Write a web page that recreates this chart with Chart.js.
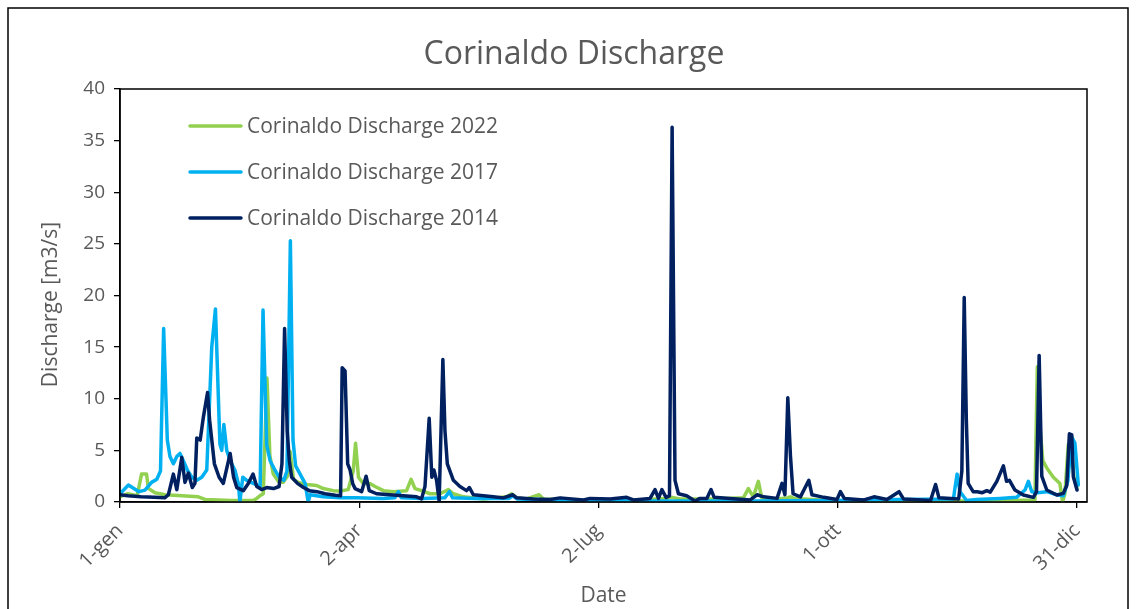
<!DOCTYPE html>
<html>
<head>
<meta charset="utf-8">
<script src="https://cdn.jsdelivr.net/npm/chart.js@4/dist/chart.umd.min.js"></script>
<style>
  html, body { margin: 0; padding: 0; background: #ffffff; }
  #wrap { width: 1136px; height: 609px; position: relative; }
</style>
</head>
<body>
<div id="wrap"><canvas id="c" width="1136" height="609"></canvas></div>
<script>
// ---- data (day of year, discharge m3/s) ----
const tickDays = [0, 91, 182, 273, 364];
const tickLabels = ['1-gen', '2-apr', '2-lug', '1-ott', '31-dic'];
const seriesNames = ['Corinaldo Discharge 2022', 'Corinaldo Discharge 2017', 'Corinaldo Discharge 2014'];

const s2022 = [[0,0.5],[3,0.8],[6.5,0.6],[8.2,2.7],[10.1,2.7],[10.8,1.3],[13.3,0.9],[17.1,0.7],[23.5,0.6],[29.8,0.5],[32.3,0.25],[42.5,0.15],[50.7,0.15],[52,0.35],[53.2,0.6],[54.5,0.8],[55.9,12.0],[57,4.5],[58.3,2.7],[60.2,2.0],[62,1.9],[63.7,2.5],[64.7,4.9],[66,2.2],[67.8,1.9],[71,1.7],[74.8,1.6],[77.3,1.3],[81.1,1.1],[83.7,1.06],[86.8,1.2],[88.7,3.0],[89.6,5.7],[90.7,2.4],[92.5,1.8],[95,1.8],[97,1.5],[100.2,1.1],[104,1.0],[109,1.1],[110.7,2.2],[112.2,1.3],[114.7,1.1],[117.9,0.8],[121.7,0.8],[124.9,1.2],[126.8,0.8],[130.6,0.5],[138.2,0.3],[147.1,0.5],[149,0.8],[150.9,0.4],[154.7,0.3],[159.4,0.7],[161,0.3],[176.3,0.15],[190,0.2],[200,0.25],[207.7,0.35],[210,0.45],[213,0.3],[225,0.3],[237.1,0.4],[239,1.3],[240.9,0.5],[242.8,2.0],[244.1,0.4],[249.9,0.3],[253.7,0.4],[255,0.5],[256.3,0.35],[270,0.15],[300,0.1],[330,0.1],[348,0.2],[348.9,13.1],[350,7.0],[351,4.0],[352.5,3.3],[355,2.4],[357.5,1.8],[358.5,0],[359.4,0.8],[360.7,5.6],[362,5.0],[362.8,2.4],[364,1.3]];

const s2017 = [[0,0.8],[3.2,1.65],[7.2,1.0],[9.5,1.15],[12,1.9],[14,2.2],[15.4,3.0],[16.6,16.8],[18,6.0],[19,4.4],[20.3,3.7],[21.6,4.4],[22.8,4.7],[24.1,4.0],[25.6,3.1],[27.3,2.4],[29.2,2.1],[31.1,2.4],[33,3.1],[34.9,15.0],[36.3,18.7],[38,5.6],[38.7,5.0],[39.5,7.5],[40.6,5.0],[41.9,4.0],[43.7,3.1],[45,1.8],[45.6,0],[46.7,2.4],[48.2,2.1],[50.7,1.8],[53.3,1.5],[54.4,18.6],[55.8,5.5],[57.1,4.0],[58.9,3.1],[60.5,2.4],[62.3,2.1],[63.5,3.0],[64.8,25.3],[65.8,6.0],[66.8,3.5],[68.5,2.7],[70.4,1.8],[71.6,0],[72.3,0.7],[77.3,0.5],[83.7,0.4],[90,0.4],[100,0.35],[104.5,0.4],[105.9,1.0],[107,0.4],[115,0.35],[123.5,0.4],[125.3,1.0],[126.5,0.4],[135,0.35],[148,0.35],[149.4,0.6],[151,0.3],[165,0.2],[180,0.15],[200,0.1],[240,0.1],[270,0.15],[296,0.25],[317,0.3],[317.5,1.2],[318.4,2.7],[319.5,1.0],[322,0.15],[325.8,0.25],[334.7,0.35],[341,0.45],[344.2,1.16],[345.5,2.0],[346.8,1.0],[349,0.9],[352.5,1.0],[356.3,0.7],[358.8,0.6],[360.5,2.0],[362,6.3],[363.2,5.7],[364.5,1.65]];

const s2014 = [[0,0.7],[3,0.6],[8,0.5],[13,0.45],[17,0.4],[18.4,0.7],[20.3,2.7],[21.6,1.2],[23.5,4.3],[24.7,1.9],[26,2.8],[27.5,1.4],[28.5,1.8],[29.2,6.2],[30.5,6.0],[31.7,8.2],[33.3,10.6],[34.1,7.9],[35.9,3.7],[37.7,2.4],[39.3,1.8],[41.9,4.7],[43.2,2.4],[44.4,1.4],[46.9,1.1],[48.8,1.8],[50.6,2.7],[52,1.5],[53.9,1.2],[55.8,1.4],[58.4,1.3],[60.5,1.5],[61.6,3.7],[62.6,16.8],[63.6,6.9],[64.4,4.0],[65.3,2.4],[67.5,1.8],[69.8,1.4],[72,1.1],[74.9,1.0],[78,0.8],[81.9,0.65],[83.9,0.6],[84.5,13.0],[85.6,12.7],[86.6,3.7],[87.5,3.1],[88.5,1.8],[89.4,1.3],[91.9,1.0],[93.6,2.5],[94.8,1.1],[97.6,0.8],[102.6,0.7],[107.8,0.6],[112.8,0.5],[114.7,0.3],[116,1.5],[117.6,8.1],[118.6,2.4],[119.4,3.1],[120.4,2.1],[121.4,0.1],[122.8,13.8],[123.6,6.9],[124.5,3.7],[126.8,2.1],[129.3,1.5],[131.8,1.1],[132.9,1.4],[134.4,0.7],[138.2,0.6],[142,0.5],[145.8,0.4],[149.4,0.7],[150.9,0.4],[157.2,0.3],[163.6,0.25],[167.4,0.4],[176.3,0.2],[178.8,0.35],[186.4,0.3],[192.7,0.45],[195.3,0.2],[201.6,0.35],[203.5,1.2],[204.8,0.35],[206.1,1.2],[207.7,0.45],[209,0.6],[210,36.3],[211.1,2.1],[212.4,0.8],[215.5,0.6],[218.7,0.1],[220.6,0.35],[223.2,0.35],[224.8,1.2],[226,0.45],[232,0.35],[239.7,0.2],[242.3,0.7],[244.8,0.5],[249.9,0.35],[251.8,1.8],[252.9,0.7],[254,10.1],[255,4.5],[256,0.8],[258.8,0.5],[262,2.1],[263.2,0.7],[267.7,0.45],[272.7,0.25],[274,1.0],[275.5,0.35],[283,0.2],[286.8,0.5],[291.7,0.25],[296.3,1.0],[298,0.3],[308.3,0.15],[310.2,1.7],[311.5,0.4],[319,0.3],[320.2,3.0],[321.1,19.8],[321.9,8.0],[322.6,1.8],[324.5,1.0],[326,1.0],[328,0.9],[329.7,1.1],[331,0.95],[333.5,2.0],[336,3.5],[337.2,2.0],[338.3,2.1],[340.4,1.16],[343.6,0.68],[347.4,0.45],[348.6,1.0],[349.6,14.2],[350.6,2.5],[352.5,1.16],[356.3,0.68],[358.8,0.84],[360.1,1.6],[361.1,6.6],[362,6.5],[362.6,2.45],[364,1.16]];

// ---- styling ----
const FONT = "'Open Sans', 'DejaVu Sans', sans-serif";
const TEXT = '#595959';
const colors = { s2022: '#92D050', s2017: '#00B0F0', s2014: '#002060' };
const yTitle = 'Discharge [m3/s]';

Chart.defaults.font.family = FONT;
Chart.defaults.color = TEXT;

const toPts = arr => arr.map(p => ({ x: p[0], y: p[1] }));

function ds(label, data, color) {
  return {
    label, data: toPts(data), borderColor: color, backgroundColor: color,
    borderWidth: 3.5, pointRadius: 0, pointHoverRadius: 0, tension: 0,
    borderJoinStyle: 'round', borderCapStyle: 'round', fill: false
  };
}

// dataset 0 is drawn on top in Chart.js, so 2014 goes first
const datasets = [
  ds(seriesNames[2], s2014, colors.s2014),
  ds(seriesNames[1], s2017, colors.s2017),
  ds(seriesNames[0], s2022, colors.s2022)
];

const frames = {
  id: 'frames',
  beforeDraw(chart) {
    const c = chart.ctx;
    c.save();
    c.fillStyle = '#ffffff';
    c.fillRect(0, 0, chart.width, chart.height);
    c.strokeStyle = '#000000';
    c.lineWidth = 1.5;
    c.strokeRect(8, 8, 1120, 700);
    c.restore();
  },
  afterDatasetsDraw(chart) {
    const a = chart.chartArea, c = chart.ctx;
    c.save();
    c.strokeStyle = '#000000';
    c.lineWidth = 1.5;
    c.strokeRect(a.left, a.top, a.right - a.left, a.bottom - a.top);
    c.restore();
  }
};

const labelsPlugin = {
  id: 'insideLegend',
  afterDraw(chart) {
    const a = chart.chartArea, c = chart.ctx;
    const items = chart.data.datasets.slice().reverse();
    c.save();
    c.font = '21px ' + FONT;
    c.textBaseline = 'middle';
    c.textAlign = 'left';
    items.forEach((d, k) => {
      const y = a.top + 37 + k * 46;
      c.strokeStyle = d.borderColor;
      c.lineWidth = 3.5;
      c.lineCap = 'round';
      c.beginPath();
      c.moveTo(a.left + 70, y);
      c.lineTo(a.left + 121, y);
      c.stroke();
      c.fillStyle = TEXT;
      c.fillText(d.label, a.left + 127, y + 1);
    });
    // y axis title (rotated), centred a little below the plot middle as in the reference
    c.translate(51, (a.top + a.bottom) / 2 + 9);
    c.rotate(-Math.PI / 2);
    c.textAlign = 'center';
    c.font = '21px ' + FONT;
    c.fillText(yTitle, 0, 0);
    c.restore();
  }
};

new Chart(document.getElementById('c'), {
  type: 'line',
  data: { datasets },
  plugins: [frames, labelsPlugin],
  options: {
    responsive: false,
    animation: false,
    devicePixelRatio: 1,
    layout: { padding: { left: 12, right: 0, top: 0, bottom: 0 } },
    plugins: {
      legend: { display: false },
      tooltip: { enabled: false },
      title: {
        display: true,
        text: 'Corinaldo Discharge',
        color: TEXT,
        font: { size: 32, weight: 'normal', family: FONT },
        padding: { top: 36, bottom: 14.6 }
      }
    },
    scales: {
      x: {
        type: 'linear',
        min: 0,
        max: 367.8,
        afterBuildTicks(scale) { scale.ticks = tickDays.map(v => ({ value: v })); },
        afterFit(scale) { scale.height = 107; },
        ticks: {
          autoSkip: false, maxRotation: 45, minRotation: 45, padding: 11,
          color: TEXT, font: { size: 20, family: FONT },
          callback: v => tickLabels[tickDays.indexOf(v)]
        },
        grid: { display: true, drawOnChartArea: false, drawTicks: true, tickLength: 6, color: '#000000', lineWidth: 1.3 },
        border: { display: true, color: '#000000', width: 1.5 },
        title: { display: true, text: 'Date', color: TEXT, font: { size: 21, family: FONT }, padding: { top: 0, bottom: 0.5 } }
      },
      y: {
        min: 0,
        max: 40,
        afterFit(scale) { scale.width = 108; },
        ticks: { stepSize: 5, padding: 9, color: TEXT, font: { size: 19, family: FONT } },
        grid: { display: true, drawOnChartArea: false, drawTicks: true, tickLength: 6, color: '#000000', lineWidth: 1.3 },
        border: { display: true, color: '#000000', width: 1.5 },
        title: { display: false }
      },
      yRight: {
        type: 'linear',
        position: 'right',
        display: true,
        afterFit(scale) { scale.width = 49; },
        ticks: { display: false },
        grid: { display: false, drawTicks: false },
        border: { display: false }
      }
    }
  }
});
</script>
</body>
</html>
